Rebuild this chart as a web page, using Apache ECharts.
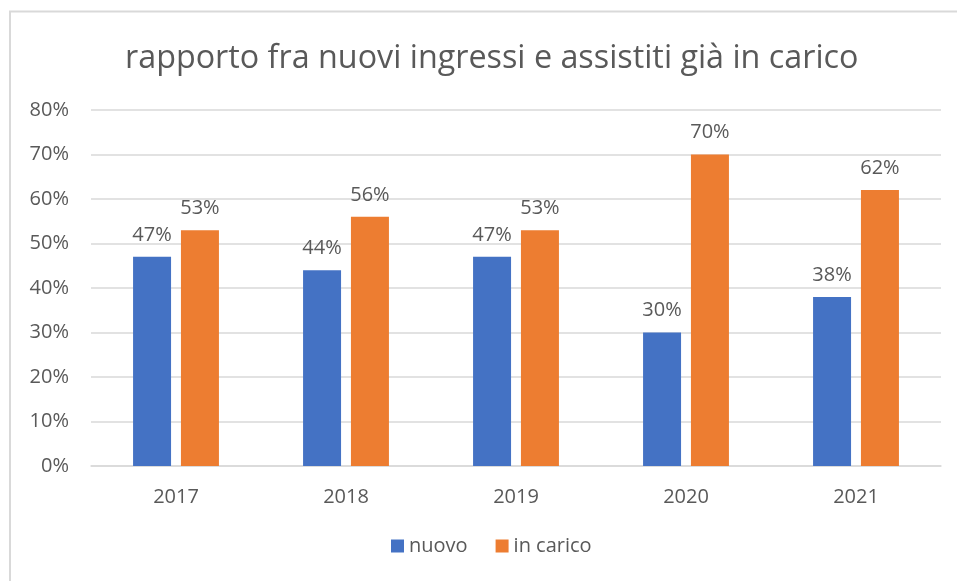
<!DOCTYPE html>
<html>
<head>
<meta charset="utf-8">
<script src="https://cdn.jsdelivr.net/npm/echarts@6/dist/echarts.min.js"></script>
<style>
  html, body { margin: 0; padding: 0; background: #fff; }
  #chart { width: 957px; height: 581px; }
</style>
</head>
<body>
<div id="chart"></div>
<script>
const years = [ '2017', '2018', '2019', '2020', '2021' ];
const nuovo = [ 47, 44, 47, 30, 38 ];
const inCarico = [ 53, 56, 53, 70, 62 ];

const textColor = '#595959';
const font = '"Open Sans", sans-serif';

const chart = echarts.init( document.getElementById( 'chart' ), null, { renderer: 'canvas' } );

const labelOpt = {
	show: true,
	position: 'top',
	distance: 12,
	color: textColor,
	fontFamily: font,
	fontSize: 20,
	formatter: p => p.value + '%'
};

chart.setOption( {
	animation: false,
	title: {
		text: 'rapporto fra nuovi ingressi e assistiti già in carico',
		left: 120,
		top: 38,
		textStyle: { color: textColor, fontFamily: font, fontSize: 32.3, fontWeight: 'normal' }
	},
	graphic: [
		{ type: 'line', shape: { x1: 9, y1: 11.5, x2: 957, y2: 11.5 }, style: { stroke: '#d9d9d9', lineWidth: 2 } },
		{ type: 'line', shape: { x1: 10, y1: 11, x2: 10, y2: 581 }, style: { stroke: '#d9d9d9', lineWidth: 2 } }
	],
	legend: {
		bottom: 20,
		left: 386,
		itemWidth: 13,
		itemHeight: 13,
		itemGap: 28,
		icon: 'rect',
		textStyle: { color: textColor, fontFamily: font, fontSize: 20 },
		data: [ 'nuovo', 'in carico' ]
	},
	grid: { left: 91, right: 16, top: 110, bottom: 115 },
	xAxis: {
		type: 'category',
		data: years,
		axisLine: { lineStyle: { color: '#d9d9d9', width: 1.5 } },
		axisTick: { show: false },
		axisLabel: { color: textColor, fontFamily: font, fontSize: 20, margin: 21 }
	},
	yAxis: {
		type: 'value',
		min: 0,
		max: 80,
		interval: 10,
		axisLine: { show: false },
		axisTick: { show: false },
		splitLine: { lineStyle: { color: '#d9d9d9', width: 1.5 } },
		axisLabel: { color: textColor, fontFamily: font, fontSize: 20, margin: 22, formatter: '{value}%' }
	},
	series: [
		{ name: 'nuovo', type: 'bar', data: nuovo, barWidth: 38, barGap: '26%', itemStyle: { color: '#4472c4' }, label: labelOpt },
		{ name: 'in carico', type: 'bar', data: inCarico, barWidth: 38, barGap: '26%', itemStyle: { color: '#ed7d31' }, label: labelOpt }
	]
} );
</script>
</body>
</html>
